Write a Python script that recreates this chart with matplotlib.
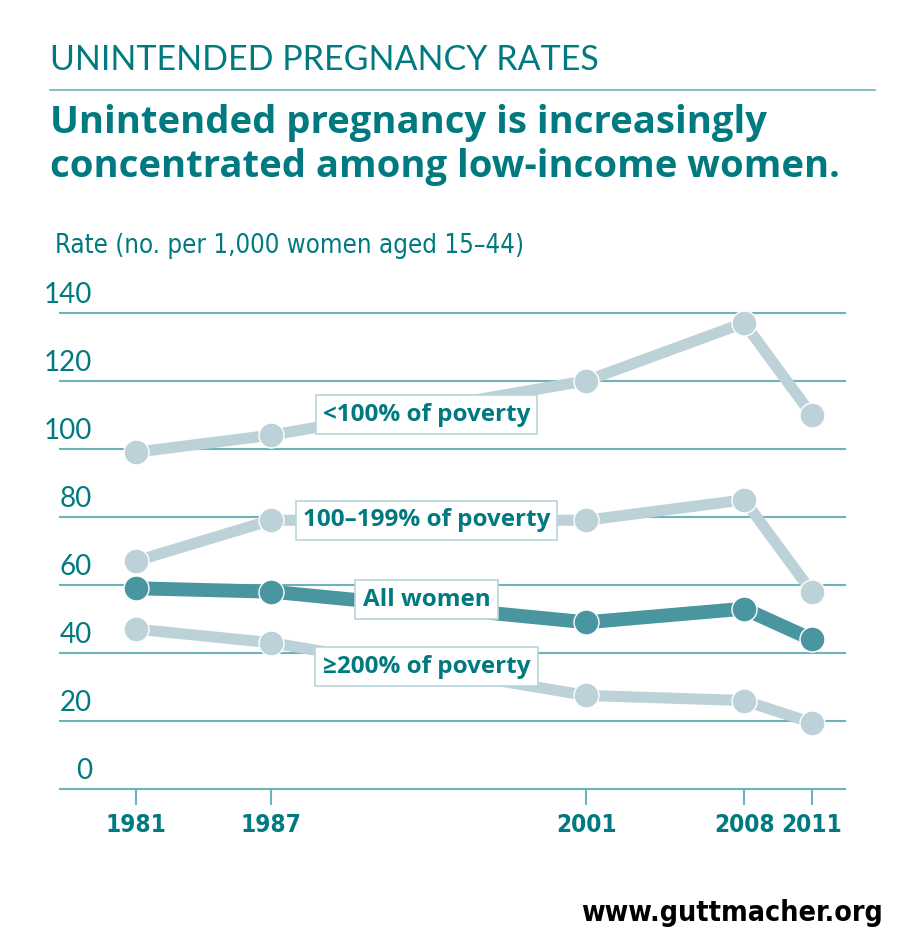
import matplotlib
matplotlib.use("Agg")
import matplotlib.pyplot as plt
from matplotlib.lines import Line2D

years = [1981, 1987, 2001, 2008, 2011]
below_100 = [99, 104, 120, 137, 110]
pov_100_199 = [67, 79, 79, 85, 58]
all_women = [59, 58, 49, 53, 44]
above_200 = [47, 43, 27.5, 26, 19.5]

series_labels = ["<100% of poverty", "100\u2013199% of poverty", "All women", "\u2265200% of poverty"]
label_pos_x = [1993.9, 1993.9, 1993.9, 1993.9]
label_pos_y = [110, 79, 55.7, 36]

yticks = [0, 20, 40, 60, 80, 100, 120, 140]

TEAL = "#007a80"
GRID = "#6fb3ba"
LIGHT = "#bdd2d8"
DARK = "#4a96a0"
BOXEDGE = "#b8d6da"
COND = dict(family=['DejaVu Sans', 'DejaVu Sans'], fontstretch='condensed')

fig = plt.figure(figsize=(9, 9.46), dpi=100)
ax = fig.add_axes([60/900, (946-789)/946, 785/900, 476.3/946])
ax.set_xlim(1977.63, 2012.48)
ax.set_ylim(0, 140)

for y in yticks:
    ax.axhline(y, color=GRID, lw=1.5, zorder=1, clip_on=False)

series = [below_100, pov_100_199, above_200, all_women]
colors = [LIGHT, LIGHT, LIGHT, DARK]
lws = [8, 8, 8, 10]
for vals, c, lw in zip(series, colors, lws):
    ax.plot(years, vals, color=c, lw=lw, solid_capstyle='butt', zorder=2, clip_on=False)
    ax.plot(years, vals, ls='none', marker='o', ms=18, mfc=c, mec='white', mew=1.0, zorder=3,
            clip_on=False)

for lab, lx, ly in zip(series_labels, label_pos_x, label_pos_y):
    ax.text(lx, ly, lab, ha='center', va='center', fontsize=17.5, fontweight='bold',
            family=['Open Sans', 'DejaVu Sans'], color=TEAL, zorder=5,
            bbox=dict(boxstyle='square,pad=0.3', fc='white', ec=BOXEDGE, lw=1.2))

for s in ax.spines.values():
    s.set_visible(False)
ax.set_yticks([])
ax.set_xticks(years)
ax.set_xticklabels([str(y) for y in years], fontweight='bold', fontsize=17.5, color=TEAL, **COND)
ax.tick_params(axis='x', length=11.5, width=1.5, color=GRID, pad=6)

for y in yticks:
    ax.text(92/900, (946 - (789 - y*3.402) + 18)/946, str(y), transform=fig.transFigure,
            ha='right', va='center', fontsize=20, color=TEAL, family=['Lato', 'DejaVu Sans'])

fig.text(50/900, 1-60/946, "UNINTENDED PREGNANCY RATES", ha='left', va='center', fontsize=24.5,
         color=TEAL, family=['Lato', 'DejaVu Sans'])
fig.add_artist(Line2D([50/900, 875/900], [1-90/946, 1-90/946], color=GRID, lw=1.2))
fig.text(50/900, 1-133/946, "Unintended pregnancy is increasingly", ha='left', va='baseline',
         fontsize=27.5, color=TEAL, family=['Open Sans', 'DejaVu Sans'], fontweight='bold')
fig.text(50/900, 1-177/946, "concentrated among low-income women.", ha='left', va='baseline',
         fontsize=27.5, color=TEAL, family=['Open Sans', 'DejaVu Sans'], fontweight='bold')
fig.text(55/900, 1-246/946, "Rate (no. per 1,000 women aged 15\u201344)", ha='left', va='center',
         fontsize=18.5, color=TEAL, **COND)
fig.text(883/900, 1-913/946, "www.guttmacher.org", ha='right', va='center',
         fontsize=20.5, color='black', fontweight='bold', **COND)

fig.savefig("out.png", dpi=100)
